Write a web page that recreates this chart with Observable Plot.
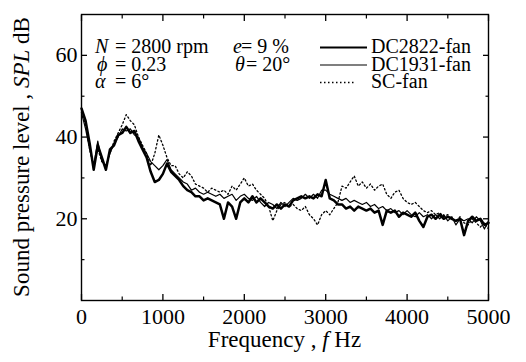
<!DOCTYPE html>
<html><head><meta charset="utf-8">
<script src="https://cdn.jsdelivr.net/npm/d3@7"></script>
<script src="https://cdn.jsdelivr.net/npm/@observablehq/plot@0.6"></script>
<style>
html,body{margin:0;padding:0;background:#fff;}
#chart svg{display:block;}
#chart svg text{font-family: "Liberation Serif", "Times New Roman", Times, serif;}
</style>
</head><body><div id="chart"></div>
<script>
// Frequency (Hz) sampling points
const freq = [0,50,100,150,200,250,300,350,400,450,500,550,600,650,700,750,800,850,900,950,
1000,1050,1100,1150,1200,1250,1300,1350,1400,1450,1500,1550,1600,1650,1700,1750,1800,1850,1900,1950,
2000,2050,2100,2150,2200,2250,2300,2350,2400,2450,2500,2550,2600,2650,2700,2750,2800,2850,2900,2950,
3000,3050,3100,3150,3200,3250,3300,3350,3400,3450,3500,3550,3600,3650,3700,3750,3800,3850,3900,3950,
4000,4050,4100,4150,4200,4250,4300,4350,4400,4450,4500,4550,4600,4650,4700,4750,4800,4850,4900,4950,5000];

// SPL (dB) – DC2822-fan (thick solid)
const dc2822 = [47,44,38.5,32,38,35,32,37,38,40.5,41,42.5,41,41.5,39,37,35,31.5,29,29.5,
31,33.5,31.5,30.5,29.5,28,27,26.5,25.5,25.5,24.5,25,24.5,24,23.5,20,24,23,20,24,
25,24,25.5,24,25,24,23,22.5,23.5,22.5,23.5,23,24.5,25,25.5,25,25.5,25,26,25.5,
29.5,25,24.5,23.5,23.5,22.5,23,22,23,22.5,22,22.5,21.5,22,18.5,22,21.5,22,20.5,21.5,
21,20.5,21.5,19.5,18,20.5,21,20,21,20,20.5,20,19.5,20,16,19.5,20.5,19.5,20,18.5,19];

// SPL (dB) – DC1931-fan (thin solid)
const dc1931 = [46,42,37,33,39,34,33,36,38.5,40,42,41.5,42,40.5,40,37.5,36,34,33,32,
33,34.5,32,31,30,29,28.5,27,27.5,26.5,26,26.5,26,25.5,26,25,25.5,26,24.5,25.5,
26,25,24.5,25.5,24,23,24,23.5,22.5,24,23,24,25,24.5,25,26,25,26,25,27,
27,26,25.5,25,24.5,25,24,24.5,24,23.5,24,23,23.5,22.5,23,22,22.5,21.5,22,21,
22,21,20.5,21.5,20.5,21,20,21,20,21,19.5,20.5,18.5,20,19.5,20,19,20.5,19.5,17.5,19.5];

// SPL (dB) – SC-fan (dotted)
const scfan = [46,43,37,33,37,34,33,36,39,41,43,45.5,44,43,40,38,36,33,36,40.5,
38,35,33,33,31,30,31.5,30.5,28.5,28,27.5,26.5,27.5,27,26.5,27,26,28,27,28.5,
30,28,28.5,27,26,25,23,19.5,22,23.5,24,23,23.5,22.5,22,23,21,20,18.5,21,
22,21,22.5,24,28,27.5,29,30.5,28,29,27.5,28.5,27,28,28.5,26,25,26.5,27,25,
24,23.5,24,23,22,21.5,22,21,21.5,20.5,21,20,19.5,20.5,19,18.5,20,19,18,19,17.5];

// Axis ticks
const xMajor = [0,1000,2000,3000,4000,5000];
const xMinor = [500,1500,2500,3500,4500];
const yMajor = [20,40,60];
const yMinor = [10,30,50];

// Texts
const xLabelParts = [["Frequency , ", false], ["f", true], [" Hz", false]];
const yLabelParts = [["Sound pressure level , ", false], ["SPL", true], [" dB", false]];
const paramSymbols = ["N", "\u03d5", "\u03b1", "e", "\u03b8"];
const paramValues = ["= 2800 rpm", "= 0.23", "= 6\u00b0", "= 9 %", "= 20\u00b0"];
const seriesNames = ["DC2822-fan", "DC1931-fan", "SC-fan"];

const rows = (vals, name) => freq.map((f, i) => ({f, v: vals[i], name}));

const W = 526, H = 362;
const mL = 81, mR = 38, mT = 14, mB = 62;
const FF = "Liberation Serif, Times New Roman, Times, serif";

const seriesStyle = {
  "DC2822-fan": {strokeWidth: 2.5, dash: null},
  "DC1931-fan": {strokeWidth: 1.2, dash: null},
  "SC-fan": {strokeWidth: 1.3, dash: "1.5,2.5"}
};

const blank = () => "";

const chart = Plot.plot({
  width: W, height: H,
  marginLeft: mL, marginRight: mR, marginTop: mT, marginBottom: mB,
  x: {domain: [0, 5000]},
  y: {domain: [0, 70]},
  style: {fontFamily: FF, fontSize: "22px", color: "black", background: "white"},
  marks: [
    Plot.line(rows(scfan, "SC-fan"), {x: "f", y: "v", stroke: "black", strokeWidth: seriesStyle["SC-fan"].strokeWidth, strokeDasharray: seriesStyle["SC-fan"].dash}),
    Plot.line(rows(dc1931, "DC1931-fan"), {x: "f", y: "v", stroke: "black", strokeWidth: seriesStyle["DC1931-fan"].strokeWidth}),
    Plot.line(rows(dc2822, "DC2822-fan"), {x: "f", y: "v", stroke: "black", strokeWidth: seriesStyle["DC2822-fan"].strokeWidth, strokeLinejoin: "round"}),
    Plot.frame({stroke: "black", strokeWidth: 1.4}),
    Plot.axisX(xMajor, {anchor: "bottom", tickSize: -6, tickPadding: 14, label: null, tickFormat: d => String(d), strokeWidth: 1.3}),
    Plot.axisX(xMajor, {anchor: "top", tickSize: -6, tickFormat: blank, label: null, strokeWidth: 1.3}),
    Plot.axisX(xMinor, {anchor: "bottom", tickSize: -3.5, tickFormat: blank, label: null, strokeWidth: 1.2}),
    Plot.axisX(xMinor, {anchor: "top", tickSize: -3.5, tickFormat: blank, label: null, strokeWidth: 1.2}),
    Plot.axisY(yMajor, {anchor: "left", tickSize: -6, tickPadding: 10, label: null, tickFormat: d => String(d), strokeWidth: 1.3}),
    Plot.axisY(yMajor, {anchor: "right", tickSize: -6, tickFormat: blank, label: null, strokeWidth: 1.3}),
    Plot.axisY(yMinor, {anchor: "left", tickSize: -3.5, tickFormat: blank, label: null, strokeWidth: 1.2}),
    Plot.axisY(yMinor, {anchor: "right", tickSize: -3.5, tickFormat: blank, label: null, strokeWidth: 1.2})
  ]
});

document.getElementById("chart").appendChild(chart);

const svg = d3.select(chart);

// Axis titles with italic symbols
const xt = svg.append("text")
  .attr("x", (mL + W - mR) / 2).attr("y", 347)
  .attr("text-anchor", "middle").attr("font-size", 23).attr("fill", "black");
xLabelParts.forEach(([t, it]) => xt.append("tspan").attr("font-style", it ? "italic" : "normal").style("white-space", "pre").text(t));

const yt = svg.append("text")
  .attr("transform", `translate(29,${(mT + H - mB) / 2}) rotate(-90)`)
  .attr("text-anchor", "middle").attr("font-size", 23).attr("fill", "black");
yLabelParts.forEach(([t, it]) => yt.append("tspan").attr("font-style", it ? "italic" : "normal").style("white-space", "pre").text(t));

// Parameter annotation block
const ann = svg.append("g").attr("font-size", 20).attr("fill", "black").attr("text-anchor", "start");
const symPos = [[95, 53], [97, 71], [95, 88], [233, 53], [235, 71]];
const valPos = [[115, 53], [115, 71], [115, 88], [241, 53], [246, 71]];
paramSymbols.forEach((s, i) => {
  ann.append("text").attr("x", symPos[i][0]).attr("y", symPos[i][1]).attr("font-style", "italic").text(s);
  ann.append("text").attr("x", valPos[i][0]).attr("y", valPos[i][1]).text(paramValues[i]);
});

// Legend
const leg = svg.append("g").attr("font-size", 20).attr("fill", "black").attr("text-anchor", "start");
seriesNames.forEach((name, i) => {
  const yb = 53 + i * 17.5;
  const st = seriesStyle[name];
  leg.append("line").attr("x1", 320).attr("x2", name === "SC-fan" ? 354 : 367)
    .attr("y1", yb - 5.5).attr("y2", yb - 5.5)
    .attr("stroke", "black").attr("stroke-width", name === "DC2822-fan" ? 2 : st.strokeWidth)
    .attr("stroke-dasharray", st.dash);
  leg.append("text").attr("x", 371).attr("y", yb).text(name);
});
</script>
</body></html>
